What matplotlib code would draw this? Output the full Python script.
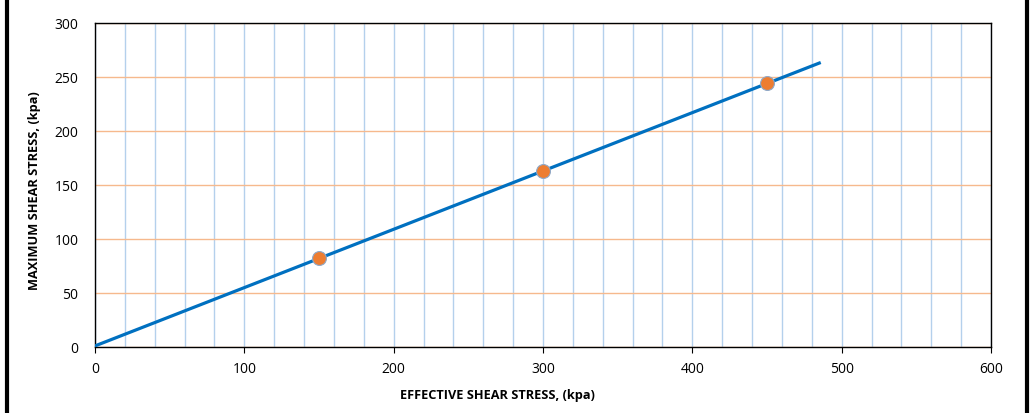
import numpy as np
import matplotlib
matplotlib.use("Agg")
import matplotlib.pyplot as plt
from matplotlib.lines import Line2D

# Data
effective_stress = [150, 300, 450]
max_shear = [82, 163, 244]
trend_x_range = [0, 485]
x_label = "EFFECTIVE SHEAR STRESS, (kpa)"
y_label = "MAXIMUM SHEAR STRESS, (kpa)"

plt.rcParams['font.family'] = ['Open Sans', 'DejaVu Sans']

fig = plt.figure(figsize=(10.34, 4.14), dpi=100)
ax = fig.add_axes([95/1034, 1-348/414, (991-95)/1034, (348-24)/414])

ax.set_xlim(0, 600)
ax.set_ylim(0, 300)
ax.set_xticks(np.arange(0, 601, 100))
ax.set_xticks(np.arange(0, 601, 20), minor=True)
ax.set_yticks(np.arange(0, 301, 50))

ax.grid(which='minor', axis='x', color='#b4d0ec', linewidth=1.0)
ax.grid(which='major', axis='x', color='#b4d0ec', linewidth=1.0)
ax.grid(which='major', axis='y', color='#f6b98d', linewidth=1.0)
ax.set_axisbelow(True)

ax.tick_params(axis='x', which='major', direction='out', length=4, width=0.8, labelsize=10, pad=6)
ax.tick_params(axis='x', which='minor', length=0)
ax.tick_params(axis='y', which='major', length=0, labelsize=10, pad=12)

for s in ax.spines.values():
    s.set_color('black')
    s.set_linewidth(1.0)

# Trendline (least-squares fit of the points)
coef = np.polyfit(effective_stress, max_shear, 1)
tx = np.array(trend_x_range)
ax.plot(tx, np.polyval(coef, tx), color='#0070c0', linewidth=2.3, zorder=3)

ax.scatter(effective_stress, max_shear, s=100, color='#ed7d31', edgecolor='#8fa9c9',
           linewidth=0.8, zorder=4)

ax.set_xlabel(x_label, fontsize=9.2, fontweight='bold')
ax.xaxis.set_label_coords((497-95)/896, -41/324)
ax.set_ylabel(y_label, fontsize=9.2, fontweight='bold')
ax.yaxis.set_label_coords(-(95-41)/896, (348-191)/324)

# Outer left/right border lines
fig.add_artist(Line2D([7/1034, 7/1034], [0, 1], color='black', linewidth=3, transform=fig.transFigure))
fig.add_artist(Line2D([1027/1034, 1027/1034], [0, 1], color='black', linewidth=3, transform=fig.transFigure))

fig.savefig('out.png', dpi=100)
